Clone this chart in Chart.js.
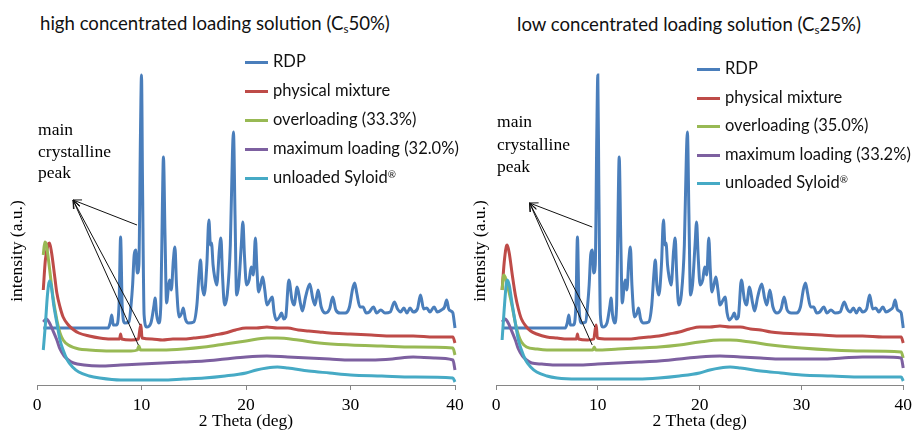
<!DOCTYPE html>
<html>
<head>
<meta charset="utf-8">
<script src="https://cdn.jsdelivr.net/npm/chart.js@4.4.1/dist/chart.umd.min.js"></script>
<style>
  body { margin: 0; background: #fff; overflow: hidden; width: 917px; height: 432px; position: relative; }
  canvas { position: absolute; top: 0; }
  .titulo { position: absolute; font-family: Lato, sans-serif; font-size: 18.6px; line-height: 20px; color: #111; white-space: nowrap; }
  .titulo sub { font-size: 0.62em; vertical-align: -0.3em; line-height: 0; }
  .fila { position: absolute; font-family: Lato, sans-serif; font-size: 16.5px; line-height: 20px; height: 20px; color: #111; white-space: nowrap; }
  .fila span { display: inline-block; width: 23px; height: 3px; vertical-align: middle; margin-right: 5px; }
  .fila sup { font-size: 0.6em; vertical-align: 0.55em; line-height: 0; }
</style>
</head>
<body>
<div class="titulo" style="left:40px; top:13px">high concentrated loading solution (C<sub>s</sub>50%)</div>
<div class="titulo" style="left:517px; top:14px">low concentrated loading solution (C<sub>s</sub>25%)</div>
<canvas id="chartAlta" width="470" height="432" style="left:0"></canvas>
<canvas id="chartBaja" width="457" height="432" style="left:460px"></canvas>
<div id="legendAlta"></div>
<div id="legendBaja"></div>
<script>
// [2 theta (deg), intensity (a.u.)]
const rdp = [
  [0.6,57],[6.8,57],[7.0,62],[7.15,70],[7.3,60],[7.6,60],[7.85,80],[8.0,148],[8.15,80],[8.4,62],
  [8.8,63],[9.0,80],[9.15,100],[9.3,130],[9.45,135],[9.6,112],[9.75,120],[9.9,250],[10.0,310],[10.1,200],
  [10.25,70],[10.5,58],[10.9,62],[11.2,80],[11.3,87],[11.45,70],[11.65,62],[11.85,80],[12.0,180],[12.1,228],
  [12.25,150],[12.4,82],[12.6,100],[12.7,105],[12.85,95],[13.05,125],[13.2,138],[13.35,100],[13.6,68],[13.85,72],
  [14.0,77],[14.2,66],[14.5,62],[15.0,63],[15.3,80],[15.5,110],[15.65,125],[15.8,100],[16.0,90],[16.25,120],
  [16.45,165],[16.6,140],[16.7,142],[16.85,120],[17.0,108],[17.2,100],[17.45,135],[17.6,147],[17.75,110],[17.95,80],
  [18.2,90],[18.5,140],[18.7,230],[18.8,253],[18.95,170],[19.1,90],[19.3,100],[19.55,140],[19.7,163],[19.85,130],
  [20.05,100],[20.3,105],[20.5,118],[20.7,110],[20.9,147],[21.05,115],[21.2,93],[21.4,100],[21.6,108],[21.8,95],
  [22.0,80],[22.3,85],[22.5,88],[22.7,72],[22.9,65],[23.2,68],[23.4,72],[23.6,66],[23.8,68],[24.1,105],
  [24.4,85],[24.6,80],[24.9,98],[25.2,82],[25.4,74],[25.7,88],[26.1,101],[26.4,86],[26.6,80],[26.9,95],
  [27.2,78],[27.6,72],[28.0,76],[28.3,88],[28.6,75],[29.0,72],[29.5,72],[29.9,78],[30.2,96],[30.4,102],
  [30.6,92],[30.9,78],[31.2,78],[31.5,72],[31.8,73],[32.2,78],[32.5,72],[32.9,75],[33.3,72],[33.8,73],
  [34.2,83],[34.5,76],[34.8,73],[35.1,77],[35.4,72],[35.7,77],[36.0,73],[36.4,76],[36.7,90],[37.0,76],
  [37.3,77],[37.6,73],[38.0,78],[38.3,73],[38.7,75],[39.0,78],[39.2,85],[39.4,76],[39.6,74],[39.8,72],
  [39.9,65],[40.0,57]
];

// high concentrated loading solution (Cs50%)
const mezclaAlta = [
  [0.6,95],[0.8,125],[1.05,140],[1.2,142],[1.4,132],[1.7,108],[1.9,92],[2.2,78],[2.5,68],[3.0,60],
  [3.4,56],[4.0,52],[5.0,49],[6.0,47],[7.0,46],[7.9,46],[8.0,51],[8.1,46],[9.0,45],[9.7,46],
  [9.85,56],[9.95,60],[10.05,47],[11,46],[12,45],[13,46],[14,46],[15,47],[16,48],[17,50],
  [18,52],[19,55],[20,57],[21,57],[22,58],[23,57],[24,57],[25,55],[26,54],[27,53],
  [28,52],[30,51],[32,50],[34,49],[36,49],[38,48],[39.8,48],[40,42]
];
const sobrecargaAlta = [
  [0.6,130],[0.75,143],[0.9,140],[1.1,125],[1.25,112],[1.5,90],[1.9,65],[2.2,52],[2.5,45],[3.0,40],
  [4.0,36],[5.0,35],[7.0,34],[9.0,34],[9.6,35],[9.75,39],[9.9,35],[12,35],[14,36],[16,38],
  [18,41],[20,44],[22,47],[23,47],[25,45],[27,42],[30,40],[33,39],[36,38],[39.8,37],[40,30]
];
const maximaAlta = [
  [0.6,63],[0.9,66],[1.2,62],[1.5,55],[1.9,45],[2.2,36],[2.6,29],[3.0,25],[3.5,22],[4.5,20],
  [6,19],[8,20],[10,21],[12,22],[14,23],[16,24],[18,26],[20,28],[22,29],[24,28],
  [26,27],[28,26],[30,25],[32,25],[34,26],[36,28],[38,27],[39.8,25],[40,15]
];
const syloidAlta = [
  [0.6,35],[0.8,60],[1.0,90],[1.2,104],[1.35,100],[1.6,80],[1.9,62],[2.2,45],[2.5,35],[2.9,25],
  [3.4,18],[4.0,13],[5.0,9],[6.0,7],[8,5],[10,5],[12,5],[14,6],[16,7],[18,9],
  [20,12],[21,15],[22,17],[23,18],[24,17],[26,14],[28,12],[30,10],[33,9],[36,8],[39.8,7],[40,3]
];

// low concentrated loading solution (Cs25%)
const mezclaBaja = [
  [0.6,95],[0.8,122],[1.0,138],[1.1,140],[1.3,132],[1.6,110],[1.9,90],[2.2,76],[2.5,66],[3.0,58],
  [3.4,54],[4.0,51],[5.0,48],[6.0,47],[7.0,46],[7.9,46],[8.0,51],[8.1,46],[9.0,45],[9.6,46],
  [9.75,56],[9.85,60],[9.95,47],[11,46],[12,46],[13,46],[14,47],[15,48],[16,49],[17,51],
  [18,53],[19,56],[20,58],[21,58],[22,59],[23,58],[24,58],[25,56],[26,55],[27,53],
  [28,52],[30,51],[32,50],[34,49],[36,49],[38,48],[39.8,48],[40,42]
];
const sobrecargaBaja = [
  [0.6,95],[0.75,110],[0.9,108],[1.1,100],[1.3,92],[1.6,78],[1.9,62],[2.2,50],[2.5,43],[3.0,38],
  [4.0,36],[5.0,35],[7.0,35],[9.0,35],[9.5,35],[9.65,38],[9.8,35],[12,36],[14,37],[16,38],
  [18,40],[20,43],[22,45],[23,45],[25,43],[27,40],[30,37],[33,35],[36,34],[39.8,33],[40,27]
];
const maximaBaja = [
  [0.6,63],[0.9,66],[1.2,62],[1.5,55],[1.9,45],[2.2,36],[2.6,29],[3.0,25],[3.5,22],[4.5,21],
  [6,20],[8,20],[10,21],[12,22],[14,23],[16,24],[18,26],[20,28],[22,29],[24,28],
  [26,27],[28,26],[30,26],[32,26],[34,27],[36,28],[38,28],[39.8,27],[40,17]
];
const syloidBaja = [
  [0.6,45],[0.8,75],[1.0,100],[1.1,105],[1.3,100],[1.6,80],[1.9,62],[2.2,45],[2.5,35],[2.9,25],
  [3.4,18],[4.0,13],[5.0,9],[6.0,7],[8,6],[10,6],[12,6],[14,6],[16,7],[18,9],
  [20,12],[21,15],[22,17],[23,18],[24,17],[26,14],[28,12],[30,10],[33,9],[36,8],[39.8,8],[40,4]
];

const colores = ['#4a7ebb', '#be4b48', '#98b954', '#7d60a0', '#46aac5'];
const serif = { family: '"Liberation Serif", "Times New Roman", serif', size: 17.5 };

function series(labels, datos) {
  return datos.map((d, i) => ({
    label: labels[i],
    data: d.map(([x, y]) => ({ x, y })),
    borderColor: colores[i],
    backgroundColor: colores[i],
    borderWidth: 3,
    pointRadius: 0,
    cubicInterpolationMode: 'monotone',
    clip: false,
    order: 5 - i
  }));
}

// arrows and "main crystalline peak" note
const nota = {
  id: 'nota',
  afterDatasetsDraw(chart, args, opts) {
    const { ctx, scales: { x, y } } = chart;
    ctx.save();
    ctx.strokeStyle = '#111';
    ctx.lineWidth = 1;
    const px = x.getPixelForValue(opts.punta[0]);
    const py = y.getPixelForValue(opts.punta[1]);
    opts.colas.forEach(([cx, cy]) => {
      const qx = x.getPixelForValue(cx), qy = y.getPixelForValue(cy);
      ctx.beginPath(); ctx.moveTo(qx, qy); ctx.lineTo(px, py); ctx.stroke();
      const ang = Math.atan2(qy - py, qx - px);
      [-0.38, 0.38].forEach(d => {
        ctx.beginPath(); ctx.moveTo(px, py);
        ctx.lineTo(px + 9 * Math.cos(ang + d), py + 9 * Math.sin(ang + d));
        ctx.stroke();
      });
    });
    ctx.font = '17.5px ' + serif.family;
    ctx.fillStyle = '#000';
    ctx.textBaseline = 'middle';
    opts.lineas.forEach(([t, vx, vy]) => ctx.fillText(t, x.getPixelForValue(vx), y.getPixelForValue(vy)));
    ctx.restore();
  }
};

function leyenda(chart, id, left, tops) {
  const caja = document.getElementById(id);
  chart.data.datasets.forEach((ds, i) => {
    const fila = document.createElement('div');
    fila.className = 'fila';
    fila.style.left = left + 'px';
    fila.style.top = (tops[i] - 10) + 'px';
    fila.innerHTML = '<span style="background:' + ds.borderColor + '"></span>' + ds.label.replace('®', '<sup>®</sup>');
    caja.appendChild(fila);
  });
}

function opciones(padding, anchoY, anotacion) {
  return {
    responsive: false,
    animation: false,
    layout: { padding },
    plugins: { legend: { display: false }, tooltip: { enabled: false }, nota: anotacion },
    scales: {
      x: {
        type: 'linear', min: 0, max: 40,
        ticks: { stepSize: 10, font: serif, color: '#000', padding: 5 },
        grid: { drawOnChartArea: false, drawTicks: true, tickLength: 5, color: '#868686' },
        border: { color: '#868686', width: 1 },
        title: { display: true, text: '2 Theta (deg)', font: serif, color: '#000', padding: 0 },
        afterFit: s => { s.height = 47; }
      },
      y: {
        min: 0, max: 268,
        ticks: { display: false },
        grid: { display: false },
        border: { display: false },
        title: { display: true, text: 'intensity (a.u.)', font: serif, color: '#000', padding: 0 },
        afterFit: s => { s.width = anchoY; }
      }
    }
  };
}

const ctx = document.getElementById('chartAlta');
const alta = new Chart(ctx, {
  type: 'line',
  data: {
    datasets: series(
      ['RDP', 'physical mixture', 'overloading (33.3%)', 'maximum loading (32.0%)', 'unloaded Syloid®'],
      [rdp, mezclaAlta, sobrecargaAlta, maximaAlta, syloidAlta])
  },
  options: opciones({ left: 7, right: 15, top: 117, bottom: 0 }, 30, {
    punta: [3.45, 185],
    colas: [[9.57, 160], [9.86, 60], [9.7, 40]],
    lineas: [['main', 0.1, 255], ['crystalline', 0.1, 233], ['peak', 0.1, 212]]
  }),
  plugins: [nota]
});
leyenda(alta, 'legendAlta', 245, [61, 90, 119, 148, 177]);

const ctx2 = document.getElementById('chartBaja');
const baja = new Chart(ctx2, {
  type: 'line',
  data: {
    datasets: series(
      ['RDP', 'physical mixture', 'overloading (35.0%)', 'maximum loading (33.2%)', 'unloaded Syloid®'],
      [rdp, mezclaBaja, sobrecargaBaja, maximaBaja, syloidBaja])
  },
  options: opciones({ left: 10, right: 10, top: 117, bottom: 0 }, 26, {
    punta: [3.3, 182],
    colas: [[9.45, 158], [9.7, 58], [9.45, 40]],
    lineas: [['main', 0.1, 263], ['crystalline', 0.1, 240], ['peak', 0.1, 218]]
  }),
  plugins: [nota]
});
leyenda(baja, 'legendBaja', 697, [68, 97, 125, 154, 182]);
</script>
</body>
</html>
